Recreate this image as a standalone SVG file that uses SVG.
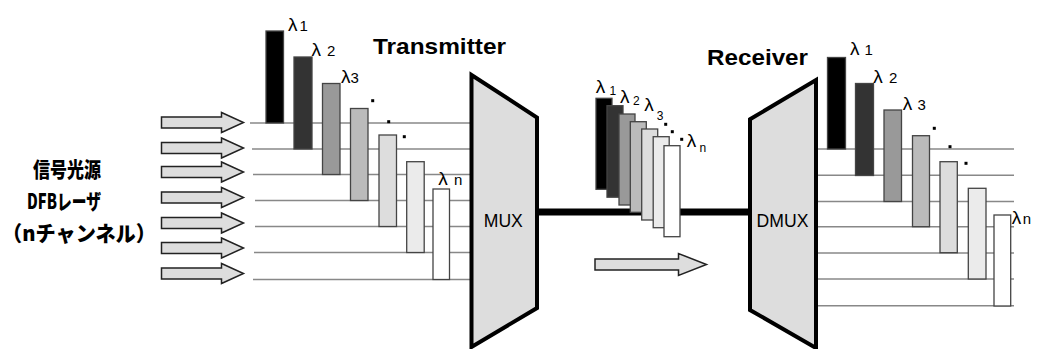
<svg xmlns="http://www.w3.org/2000/svg" width="1039" height="349" viewBox="0 0 1039 349">
<style>
.bg{fill:#fff}
.wire{stroke:#888;stroke-width:1.5;fill:none}
.fiber{stroke:#000;stroke-width:7;fill:none}
.arrow{fill:#ddd;stroke:#222;stroke-width:1.5;stroke-linejoin:miter}
.box{fill:#ddd;stroke:#000;stroke-width:4;stroke-linejoin:miter}
.bar{stroke:#444;stroke-width:1.3}
.lam{font-family:"Liberation Sans","Noto Sans CJK JP",sans-serif;font-size:19px;fill:#000}
.num{font-family:"Liberation Sans",sans-serif;font-size:15px;fill:#000}
.sub{font-family:"Liberation Sans",sans-serif;font-size:12px;fill:#000}
.title{font-family:"Liberation Sans",Arial,sans-serif;font-size:21.5px;font-weight:bold;fill:#000}
.dev{font-family:"Liberation Sans",Arial,sans-serif;font-size:17.6px;fill:#000;text-anchor:middle}
.jp{font-family:"Noto Sans CJK JP","Liberation Sans",sans-serif;font-size:21px;font-weight:900;fill:#000}
.dot{fill:#000}
.c0{fill:#000}.c1{fill:#333}.c2{fill:#999}.c3{fill:#bbb}.c4{fill:#ddd}.c5{fill:#ebebeb}.c6{fill:#fff}
</style>
<rect class="bg" x="0" y="0" width="1039" height="349"/>

<g id="connectors">
  <line class="wire" x1="250" y1="123" x2="472" y2="123"/>
  <line class="wire" x1="252" y1="149" x2="472" y2="149"/>
  <line class="wire" x1="253" y1="174.5" x2="472" y2="174.5"/>
  <line class="wire" x1="255" y1="200.5" x2="472" y2="200.5"/>
  <line class="wire" x1="255" y1="226.5" x2="472" y2="226.5"/>
  <line class="wire" x1="254" y1="252.5" x2="472" y2="252.5"/>
  <line class="wire" x1="253" y1="279.5" x2="472" y2="279.5"/>
  <line class="fiber" x1="537" y1="212" x2="750" y2="212"/>
  <line class="wire" x1="816" y1="149" x2="1014" y2="149"/>
  <line class="wire" x1="816" y1="175.3" x2="1014" y2="175.3"/>
  <line class="wire" x1="816" y1="201.5" x2="1014" y2="201.5"/>
  <line class="wire" x1="816" y1="226.7" x2="1014" y2="226.7"/>
  <line class="wire" x1="816" y1="253" x2="1014" y2="253"/>
  <line class="wire" x1="816" y1="279" x2="1014" y2="279"/>
  <line class="wire" x1="816" y1="305.7" x2="1014" y2="305.7"/>
</g>

<g id="source-label">
  <text class="jp" x="33" y="177" textLength="68" lengthAdjust="spacingAndGlyphs">信号光源</text>
  <text class="jp" x="27" y="209" textLength="74" lengthAdjust="spacingAndGlyphs">DFBレーザ</text>
  <text class="jp" x="2" y="241" textLength="154" lengthAdjust="spacingAndGlyphs">（nチャンネル）</text>
</g>

<g id="input-arrows">
  <polygon class="arrow" points="161.5,117 221.5,117 221.5,112.5 243.5,122.5 221.5,132.5 221.5,128 161.5,128"/>
  <polygon class="arrow" points="161.5,142.5 221.5,142.5 221.5,138 243.5,148 221.5,158 221.5,153.5 161.5,153.5"/>
  <polygon class="arrow" points="161.5,166.5 221.5,166.5 221.5,162 243.5,172 221.5,182 221.5,177.5 161.5,177.5"/>
  <polygon class="arrow" points="161.5,192 221.5,192 221.5,187.5 243.5,197.5 221.5,207.5 221.5,203 161.5,203"/>
  <polygon class="arrow" points="161.5,217.5 221.5,217.5 221.5,213 243.5,223 221.5,233 221.5,228.5 161.5,228.5"/>
  <polygon class="arrow" points="161.5,242.5 221.5,242.5 221.5,238 243.5,248 221.5,258 221.5,253.5 161.5,253.5"/>
  <polygon class="arrow" points="161.5,268 221.5,268 221.5,263.5 243.5,273.5 221.5,283.5 221.5,279 161.5,279"/>
</g>

<g id="tx-spectrum">
  <rect class="bar c0" x="266" y="31" width="17.5" height="92"/>
  <rect class="bar c1" x="294" y="57" width="18" height="92"/>
  <rect class="bar c2" x="322.5" y="83.5" width="17.5" height="91"/>
  <rect class="bar c3" x="350.5" y="108.5" width="17.5" height="92"/>
  <rect class="bar c4" x="379" y="135" width="17.5" height="91.5"/>
  <rect class="bar c5" x="406.7" y="161.7" width="17.5" height="90.8"/>
  <rect class="bar c6" x="433" y="189" width="16.5" height="90.5"/>
  <text class="lam" x="288" y="30.5">λ<tspan class="num" x="299.5">1</tspan></text>
  <text class="lam" x="311.5" y="56">λ<tspan class="num" x="327">2</tspan></text>
  <text class="lam" x="341" y="83.3">λ<tspan class="num" x="350.5">3</tspan></text>
  <text class="lam" x="438.3" y="185">λ<tspan class="num" x="454">n</tspan></text>
  <rect class="dot" x="371.2" y="99.2" width="3" height="3"/>
  <rect class="dot" x="387.2" y="120.2" width="3" height="3"/>
  <rect class="dot" x="402.8" y="135.2" width="3" height="3"/>
</g>

<g id="transmitter-title">
  <text class="title" x="373" y="54" textLength="133" lengthAdjust="spacingAndGlyphs">Transmitter</text>
</g>

<g id="mux">
  <polygon class="box" points="471.5,75 537,117.5 537,308 471.5,347"/>
  <text class="dev" x="503.3" y="226.7">MUX</text>
</g>

<g id="fiber-spectrum">
  <rect class="bar c0" x="596" y="98.3" width="16" height="91"/>
  <rect class="bar c1" x="607" y="105.7" width="16" height="91.5"/>
  <rect class="bar c2" x="619" y="114" width="16" height="91"/>
  <rect class="bar c3" x="630.3" y="121.7" width="16" height="90.6"/>
  <rect class="bar c4" x="641.7" y="129" width="16" height="91"/>
  <rect class="bar c5" x="653.2" y="136.7" width="16" height="91"/>
  <rect class="bar c6" x="664" y="145.7" width="16" height="91"/>
  <text class="lam" x="595.7" y="93.3">λ<tspan class="sub" x="609.5" y="95">1</tspan></text>
  <text class="lam" x="620" y="102.7">λ<tspan class="sub" x="633" y="105">2</tspan></text>
  <text class="lam" x="644.3" y="110.7">λ<tspan class="sub" x="656.7" y="120">3</tspan></text>
  <text class="lam" x="686.7" y="147.3">λ<tspan class="sub" x="699.5" y="151.7">n</tspan></text>
  <rect class="dot" x="664.2" y="122.8" width="3" height="3"/>
  <rect class="dot" x="670.8" y="130.2" width="3" height="3"/>
  <rect class="dot" x="680.2" y="137.8" width="3" height="3"/>
</g>

<g id="direction-arrow">
  <polygon class="arrow" points="595,259 678.5,259 678.5,253.5 706.5,264.5 678.5,275.5 678.5,270 595,270"/>
</g>

<g id="receiver-title">
  <text class="title" x="707" y="65" textLength="101" lengthAdjust="spacingAndGlyphs">Receiver</text>
</g>

<g id="dmux">
  <polygon class="box" points="750,119.3 816,80 816,348 750,310"/>
  <text class="dev" x="782.5" y="226.7">DMUX</text>
</g>

<g id="rx-spectrum">
  <rect class="bar c0" x="827.5" y="57.5" width="18" height="91.5"/>
  <rect class="bar c1" x="855.5" y="83.5" width="18" height="92"/>
  <rect class="bar c2" x="884" y="110" width="17.5" height="91.5"/>
  <rect class="bar c3" x="912.5" y="135.7" width="17" height="91"/>
  <rect class="bar c4" x="940" y="161.7" width="17.3" height="91"/>
  <rect class="bar c5" x="968.3" y="188.3" width="17.7" height="90.7"/>
  <rect class="bar c6" x="994" y="215" width="16.7" height="91"/>
  <text class="lam" x="850" y="55">λ<tspan class="num" x="864.5">1</tspan></text>
  <text class="lam" x="873.3" y="83.3">λ<tspan class="num" x="889">2</tspan></text>
  <text class="lam" x="902.7" y="110">λ<tspan class="num" x="917.5">3</tspan></text>
  <text class="lam" x="1011.7" y="224">λ<tspan class="num" x="1022.7">n</tspan></text>
  <rect class="dot" x="932.8" y="126.8" width="3" height="3"/>
  <rect class="dot" x="948.5" y="145.2" width="3" height="3"/>
  <rect class="dot" x="964.5" y="161.8" width="3" height="3"/>
</g>
</svg>
